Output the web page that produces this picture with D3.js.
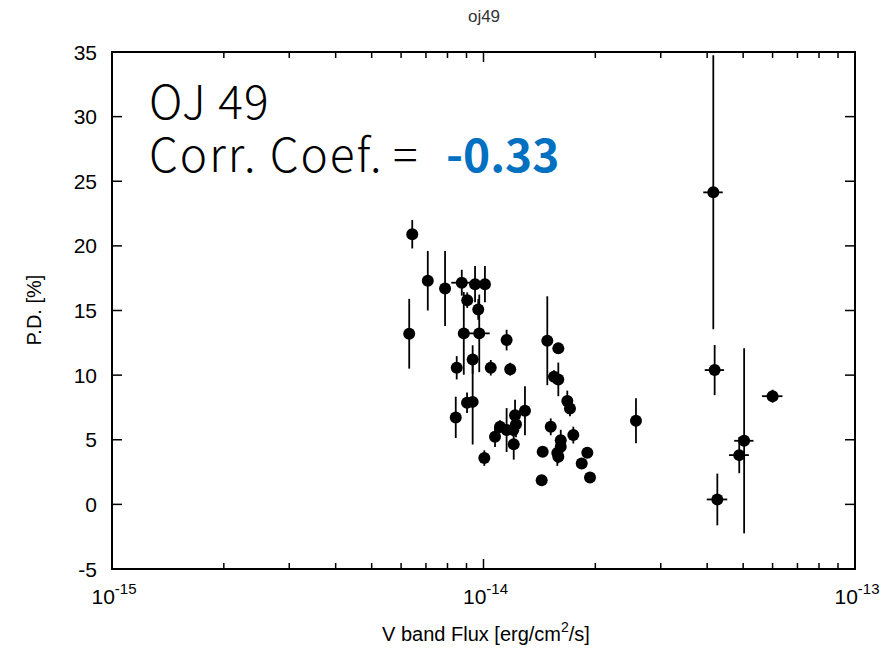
<!DOCTYPE html>
<html>
<head>
<meta charset="utf-8">
<script src="https://cdn.jsdelivr.net/npm/d3@7"></script>
<style>
  html, body { margin: 0; padding: 0; background: #fff; }
  svg { display: block; }
</style>
</head>
<body>
<svg id="chart" width="896" height="649"></svg>
<script>
// ---- data (flux in units of 1e-14 erg/cm2/s) ----
const fluxE14 = [0.631, 0.643, 0.708, 0.788, 0.874, 0.949, 1.009, 0.904, 0.968, 0.885,
  0.974, 0.847, 0.935, 1.046, 0.935, 0.903, 0.842, 1.074, 1.108, 1.154,
  1.203, 1.223, 1.216, 1.206, 1.293, 1.005, 1.180, 1.154, 1.485, 1.590,
  1.548, 1.590, 1.681, 1.709, 1.517, 1.614, 1.745, 1.580, 1.614, 1.590,
  1.443, 1.903, 1.838, 1.935, 1.434, 2.573, 4.155, 4.19, 6.00, 5.03,
  4.88, 4.26];
const pd = [13.2, 20.9, 17.3, 16.7, 17.15, 17.04, 17.04, 15.8, 15.08, 13.23,
  13.23, 10.57, 11.21, 10.57, 7.93, 7.86, 6.73, 5.23, 6.0, 5.75,
  5.75, 6.2, 6.9, 4.66, 7.24, 3.58, 10.46, 12.71, 12.66, 12.07,
  9.87, 9.67, 8.0, 7.42, 6.0, 4.97, 5.36, 3.98, 4.46, 3.68,
  4.07, 4.0, 3.16, 2.08, 1.87, 6.47, 24.14, 10.39, 8.37, 4.92,
  3.81, 0.38];
const pdErr = [2.7, 1.1, 2.3, 2.9, 1.0, 1.4, 1.4, 0.6, 0.8, 3.2,
  3.0, 0.9, 1.1, 0.6, 3.3, 0.8, 1.6, 0.8, 0.5, 1.7,
  0.5, 1.0, 1.2, 1.2, 1.9, 0.6, 0.5, 0.8, 3.44, 0.3,
  0.5, 1.3, 0.8, 0.6, 0.65, 0.8, 0.65, 1.0, 0.5, 0.5,
  0.3, 0.3, 0.3, 0.3, 0.3, 1.74, 10.6, 1.94, 0.5, 7.16,
  1.4, 2.0];
const fluxErrE14 = [0.02, 0.02, 0.02, 0.02, 0.055, 0.02, 0.03, 0.02, 0.02, 0.02,
  0.065, 0.02, 0.02, 0.02, 0.02, 0.02, 0.02, 0.02, 0.02, 0.02,
  0.02, 0.02, 0.02, 0.02, 0.02, 0.02, 0.02, 0.02, 0.02, 0.02,
  0.02, 0.02, 0.02, 0.02, 0.02, 0.02, 0.02, 0.02, 0.02, 0.02,
  0.02, 0.02, 0.02, 0.02, 0.02, 0.03, 0.25, 0.25, 0.38, 0.3,
  0.3, 0.27];
const yTicks = [-5, 0, 5, 10, 15, 20, 25, 30, 35];
const xMajorExps = [-15, -14, -13];
const titleText = "oj49";
const sourceName = "OJ 49";
const corrLabel = "Corr. Coef.";
const corrEq = "=";
const corrValue = "-0.33";

// ---- layout ----
const svg = d3.select("#chart");
const L = 112, R = 855, T = 52, B = 569;
const x = d3.scaleLog().domain([1e-15, 1e-13]).range([L, R]);
const y = d3.scaleLinear().domain([-5, 35]).range([B, T]);
const tickFont = "'Liberation Sans', Arial, Helvetica, sans-serif";

const pts = fluxE14.map((f, i) => ({
  f: f * 1e-14, p: pd[i], pe: pdErr[i], fe: fluxErrE14[i] * 1e-14
}));

// ---- ticks (gnuplot-style, inward, mirrored) ----
const g = svg.append("g");
const majorLen = 10, minorLen = 6;
yTicks.forEach(v => {
  const yy = y(v);
  if (v !== -5 && v !== 35) {
    g.append("line").attr("x1", L).attr("x2", L + majorLen).attr("y1", yy).attr("y2", yy)
      .attr("stroke", "#000").attr("stroke-width", 1.5);
    g.append("line").attr("x1", R).attr("x2", R - majorLen).attr("y1", yy).attr("y2", yy)
      .attr("stroke", "#000").attr("stroke-width", 1.5);
  }
  g.append("text").attr("x", 97).attr("y", yy + 7.5).attr("text-anchor", "end")
    .attr("font-family", tickFont).attr("font-size", 21).attr("fill", "#000").text(v);
});

const minorVals = [];
for (let e = -15; e < -13; e++) {
  for (let m = 2; m <= 9; m++) minorVals.push(m * Math.pow(10, e));
}
minorVals.forEach(v => {
  const xx = x(v);
  g.append("line").attr("x1", xx).attr("x2", xx).attr("y1", B).attr("y2", B - minorLen)
    .attr("stroke", "#000").attr("stroke-width", 1.5);
  g.append("line").attr("x1", xx).attr("x2", xx).attr("y1", T).attr("y2", T + minorLen)
    .attr("stroke", "#000").attr("stroke-width", 1.5);
});
xMajorExps.forEach(e => {
  const xx = x(Math.pow(10, e));
  g.append("line").attr("x1", xx).attr("x2", xx).attr("y1", B).attr("y2", B - majorLen)
    .attr("stroke", "#000").attr("stroke-width", 1.5);
  g.append("line").attr("x1", xx).attr("x2", xx).attr("y1", T).attr("y2", T + majorLen)
    .attr("stroke", "#000").attr("stroke-width", 1.5);
  const t = g.append("text").attr("x", xx + 2).attr("y", 604).attr("text-anchor", "middle")
    .attr("font-family", tickFont).attr("font-size", 21).attr("fill", "#000");
  t.append("tspan").text("10");
  t.append("tspan").attr("dy", -10).attr("font-size", 15).text(String(e));
});

// ---- frame ----
svg.append("rect").attr("x", L).attr("y", T).attr("width", R - L).attr("height", B - T)
  .attr("fill", "none").attr("stroke", "#000").attr("stroke-width", 2);

// ---- error bars ----
const eb = svg.append("g").attr("stroke", "#000").attr("stroke-width", 1.8);
pts.forEach(d => {
  eb.append("line").attr("x1", x(d.f)).attr("x2", x(d.f))
    .attr("y1", Math.max(T, y(d.p + d.pe))).attr("y2", Math.min(B, y(d.p - d.pe)));
  eb.append("line").attr("x1", x(d.f - d.fe)).attr("x2", x(d.f + d.fe))
    .attr("y1", y(d.p)).attr("y2", y(d.p));
});

// ---- points ----
svg.append("g").selectAll("circle").data(pts).join("circle")
  .attr("cx", d => x(d.f)).attr("cy", d => y(d.p)).attr("r", 6).attr("fill", "#000");

// ---- labels ----
svg.append("text").attr("x", 484).attr("y", 22).attr("text-anchor", "middle")
  .attr("font-family", tickFont).attr("font-size", 17).attr("fill", "#333").text(titleText);

const xl = svg.append("text").attr("x", 486).attr("y", 641).attr("text-anchor", "middle")
  .attr("font-family", tickFont).attr("font-size", 20).attr("fill", "#000");
xl.append("tspan").text("V band Flux [erg/cm");
xl.append("tspan").attr("dy", -9).attr("font-size", 14).text("2");
xl.append("tspan").attr("dy", 9).text("/s]");

svg.append("text").attr("transform", "translate(41,310) rotate(-90)").attr("text-anchor", "middle")
  .attr("font-family", tickFont).attr("font-size", 20).attr("fill", "#000").text("P.D. [%]");

const annFont = "'Noto Sans CJK JP', 'Noto Sans', sans-serif";
svg.append("text").attr("x", 149).attr("y", 119).attr("font-family", annFont)
  .attr("font-size", 46).attr("font-weight", 300).attr("letter-spacing", 1.2)
  .attr("fill", "#000").text(sourceName);
const ct = svg.append("text").attr("y", 172).attr("font-family", annFont)
  .attr("font-size", 46).attr("font-weight", 300).attr("fill", "#000");
ct.append("tspan").attr("x", 149).attr("letter-spacing", 2).text(corrLabel);
ct.append("tspan").attr("x", 393).text(corrEq);
ct.append("tspan").attr("x", 446).attr("font-weight", 700).attr("fill", "#0070C0").text(corrValue);
</script>
</body>
</html>
